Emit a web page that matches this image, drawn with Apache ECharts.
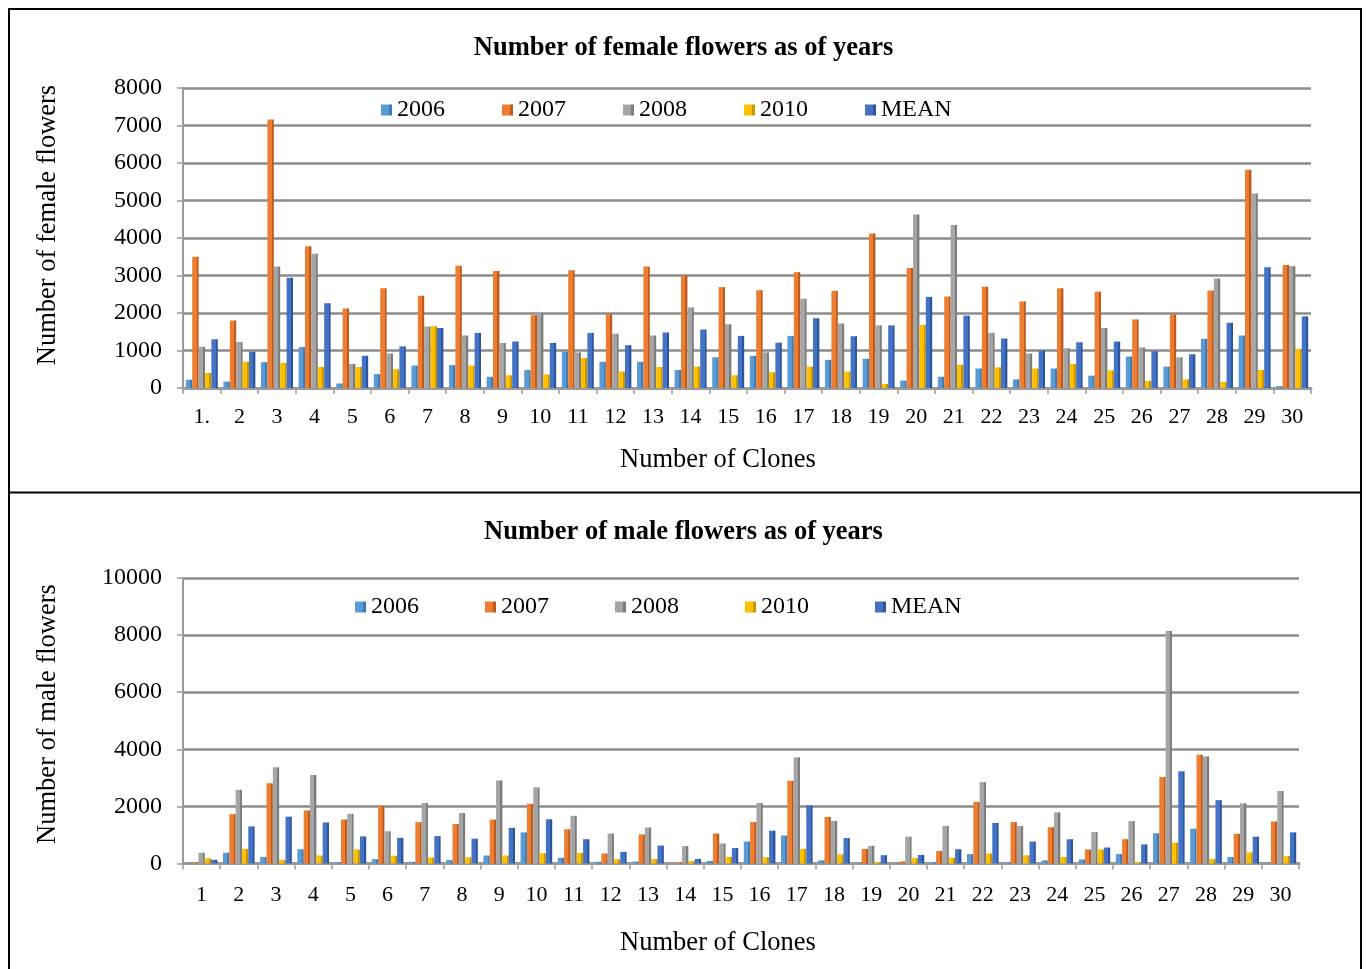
<!DOCTYPE html>
<html>
<head>
<meta charset="utf-8">
<script src="https://cdn.jsdelivr.net/npm/echarts@6/dist/echarts.min.js"></script>
<style>html,body{margin:0;padding:0;background:#fff;}#c{width:1367px;height:969px;}</style>
</head>
<body>
<div id="c"></div>
<script>
var seriesNames = ['2006', '2007', '2008', '2010', 'MEAN'];
var femaleCats = ['1.','2','3','4','5','6','7','8','9','10','11','12','13','14','15','16','17','18','19','20','21','22','23','24','25','26','27','28','29','30'];
var maleCats = ['1','2','3','4','5','6','7','8','9','10','11','12','13','14','15','16','17','18','19','20','21','22','23','24','25','26','27','28','29','30'];

var female2006 = [220,170,690,1090,120,370,600,610,300,480, 970,700,700,480,820,860,1390,750,780,200, 300,520,230,520,330,840,570,1310,1400,50];
var female2007 = [3500,1800,7160,3780,2120,2660,2460,3260,3120,1940, 3140,1970,3240,3000,2690,2610,3090,2590,4120,3200, 2440,2700,2310,2660,2570,1830,1960,2600,5820,3280];
var female2008 = [1100,1230,3240,3580,640,920,1640,1400,1200,2000, 950,1450,1400,2150,1700,950,2380,1720,1670,4630, 4350,1470,920,1060,1600,1080,820,2920,5190,3250];
var female2010 = [400,700,670,560,560,500,1650,600,340,360, 800,440,560,570,340,420,570,440,110,1680, 620,550,520,640,470,190,230,160,480,1040];
var femaleMean = [1300,970,2940,2260,860,1110,1600,1470,1240,1200, 1470,1140,1480,1560,1390,1210,1860,1380,1670,2430, 1930,1320,1000,1220,1240,980,900,1740,3220,1910];

var male2006 = [20,380,230,500,40,150,60,120,280,1090, 200,60,70,0,90,770,980,110,20,20, 50,330,50,110,140,330,1060,1220,230,10];
var male2007 = [30,1730,2810,1860,1540,2020,1450,1380,1540,2090, 1200,350,1020,40,1050,1450,2900,1630,510,70, 440,2160,1450,1270,490,850,3030,3810,1040,1470];
var male2008 = [380,2580,3370,3100,1740,1130,2120,1770,2910,2670, 1670,1050,1260,610,700,2120,3720,1490,620,940, 1320,2850,1310,1790,1100,1490,8140,3750,2110,2540];
var male2010 = [180,510,130,280,490,270,210,220,280,360, 370,150,160,90,230,220,510,320,50,190, 200,350,290,230,490,50,730,160,390,260];
var maleMean = [130,1300,1640,1440,950,900,960,870,1250,1550, 850,410,630,160,540,1150,2030,890,290,300, 500,1420,770,850,560,670,3230,2220,940,1090];

var femaleTicks = [0,1000,2000,3000,4000,5000,6000,7000,8000];
var maleTicks = [0,2000,4000,6000,8000,10000];

var colors = ['#5B9BD5', '#ED7D31', '#A5A5A5', '#FFC000', '#4472C4'];
var darks = ['#3F7CB5', '#BD5A1C', '#7C7C7C', '#C99600', '#2D559E'];
var FONT = "'Liberation Serif', 'Times New Roman', serif";

function barStyle(i) {
  return {
    color: new echarts.graphic.LinearGradient(0, 0, 1, 0, [
      {offset: 0, color: colors[i]},
      {offset: 0.68, color: colors[i]},
      {offset: 0.7, color: darks[i]},
      {offset: 1, color: darks[i]}
    ])
  };
}

var femaleData = [female2006, female2007, female2008, female2010, femaleMean];
var maleData = [male2006, male2007, male2008, male2010, maleMean];

var series = [];
[femaleData, maleData].forEach(function (set, g) {
  set.forEach(function (d, i) {
    series.push({
      type: 'bar', name: seriesNames[i], data: d,
      xAxisIndex: g, yAxisIndex: g,
      barGap: '0%', barCategoryGap: '15%',
      itemStyle: barStyle(i),
      emphasis: {disabled: true}
    });
  });
});

function xAx(cats, idx, margin) {
  return {
    type: 'category', gridIndex: idx, data: cats,
    axisLine: {show: true, lineStyle: {color: '#9a9a9a', width: 3}},
    axisTick: {show: true, length: 6, alignWithLabel: false, lineStyle: {color: '#9a9a9a', width: 1.5}},
    axisLabel: {color: '#000', fontSize: 22, fontFamily: FONT, margin: margin, interval: 0}
  };
}
function yAx(max, interval, idx) {
  return {
    type: 'value', gridIndex: idx, min: 0, max: max, interval: interval,
    axisLine: {show: true, lineStyle: {color: '#9a9a9a', width: 2}},
    axisTick: {show: true, length: 6, lineStyle: {color: '#9a9a9a', width: 1.5}},
    splitLine: {show: true, lineStyle: {color: '#8c8c8c', width: 2.5}},
    axisLabel: {color: '#000', fontSize: 24, fontFamily: FONT, margin: 21, formatter: function (v) { return String(v); }}
  };
}

var chart = echarts.init(document.getElementById('c'), null, {renderer: 'canvas'});
chart.setOption({
  animation: false,
  color: colors,
  title: [
    {text: 'Number of female flowers as of years', left: 'center', top: 35, padding: 0,
     textStyle: {fontSize: 26.5, fontWeight: 'bold', fontFamily: FONT, color: '#000'}},
    {text: 'Number of male flowers as of years', left: 'center', top: 519, padding: 0,
     textStyle: {fontSize: 26.5, fontWeight: 'bold', fontFamily: FONT, color: '#000'}}
  ],
  legend: [
    {data: seriesNames, left: 381, top: 98, padding: 0, itemWidth: 11, itemHeight: 11, icon: 'rect', itemGap: 57,
     textStyle: {fontSize: 24, fontFamily: FONT, color: '#000'}, selectedMode: false},
    {data: seriesNames, left: 355, top: 595, padding: 0, itemWidth: 11, itemHeight: 11, icon: 'rect', itemGap: 66,
     textStyle: {fontSize: 24, fontFamily: FONT, color: '#000'}, selectedMode: false}
  ],
  grid: [
    {left: 183, right: 56, top: 88, height: 300, containLabel: false},
    {left: 183, right: 68, top: 578, height: 285.5, containLabel: false}
  ],
  xAxis: [xAx(femaleCats, 0, 18), xAx(maleCats, 1, 21)],
  yAxis: [yAx(femaleTicks[femaleTicks.length - 1], femaleTicks[1], 0), yAx(maleTicks[maleTicks.length - 1], maleTicks[1], 1)],
  series: series,
  graphic: [
    {type: 'rect', shape: {x: 9, y: 9, width: 1352, height: 970}, style: {fill: 'none', stroke: '#000', lineWidth: 2}, z: 100},
    {type: 'line', shape: {x1: 9, y1: 492.5, x2: 1361, y2: 492.5}, style: {stroke: '#000', lineWidth: 2}, z: 100},
    {type: 'text', x: 48, y: 225, rotation: Math.PI / 2,
     style: {text: 'Number of female flowers', fontSize: 26.5, fontFamily: FONT, fill: '#000', textAlign: 'center', textVerticalAlign: 'middle'}},
    {type: 'text', x: 48, y: 714, rotation: Math.PI / 2,
     style: {text: 'Number of male flowers', fontSize: 26.5, fontFamily: FONT, fill: '#000', textAlign: 'center', textVerticalAlign: 'middle'}},
    {type: 'text', x: 718, y: 460,
     style: {text: 'Number of Clones', fontSize: 26.5, fontFamily: FONT, fill: '#000', textAlign: 'center', textVerticalAlign: 'middle'}},
    {type: 'text', x: 718, y: 943,
     style: {text: 'Number of Clones', fontSize: 26.5, fontFamily: FONT, fill: '#000', textAlign: 'center', textVerticalAlign: 'middle'}}
  ]
});
</script>
</body>
</html>
